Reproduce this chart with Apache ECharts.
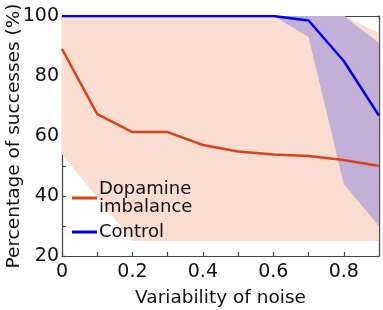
<!DOCTYPE html>
<html><head><meta charset="utf-8">
<script src="https://cdn.jsdelivr.net/npm/echarts@6/dist/echarts.min.js"></script>
<style>html,body{margin:0;padding:0;background:#fff}#c{width:383px;height:310px}</style>
</head><body><div id="c"></div>
<script>
const noise = [0,0.1,0.2,0.3,0.4,0.5,0.6,0.7,0.8,0.9];
const dopamine = [89,67.3,61.3,61.3,57,54.8,53.8,53.3,52,50];
const dopamineUpper = [100,100,100,100,100,100,100,100,100,94.3];
const dopamineLower = [54,39.5,25,25,25,25,25,25,25,25];
const control = [100,100,100,100,100,100,100,98.5,85,66.8];
const controlUpper = [100,100,100,100,100,100,100,100,100,91];
const controlLower = [100,100,100,100,100,100,100,93,44,30];
const xTickLabels = ['0','0.2','0.4','0.6','0.8'];
const yTickLabels = ['20','40','60','80','100'];

const FONT = 'DejaVu Sans';
const chart = echarts.init(document.getElementById('c'), null, {renderer:'canvas'});

function band(upper, lower, color, name){
  return {
    type:'custom', name:name, silent:true, z:1,
    data:[0],
    renderItem:function(params, api){
      const pts=[];
      for(let i=0;i<noise.length;i++) pts.push(api.coord([noise[i], upper[i]]));
      for(let i=noise.length-1;i>=0;i--) pts.push(api.coord([noise[i], lower[i]]));
      return {type:'polygon', shape:{points:pts}, style:{fill:color}};
    }
  };
}
const axisLineStyle = {color:'#444', width:1.2};
const xFmt = v => { const k=Math.round(v*10); return k%2===0 ? xTickLabels[k/2] : ''; };
const yFmt = v => { const k=Math.round(v); return (k%20===0) ? yTickLabels[(k-20)/20] : ''; };

chart.setOption({
  animation:false,
  grid:{left:62, right:4, top:16, bottom:54, containLabel:false, outerBoundsMode:'none'},
  legend:{
    left:67, top:175, orient:'vertical', itemGap:7,
    icon:'rect', itemWidth:25, itemHeight:3,
    textStyle:{fontFamily:FONT, fontSize:18, color:'#111', lineHeight:18, padding:[0,0,0,-3]},
    data:[{name:'Dopamine\nimbalance'},{name:'Control'}]
  },
  xAxis:[{
    type:'value', min:0, max:0.9, interval:0.1,
    name:'Variability of noise', nameLocation:'middle', nameGap:33, nameMoveOverlap:false,
    nameTextStyle:{fontFamily:FONT, fontSize:18.5, color:'#111'},
    axisLine:{show:true, onZero:false, lineStyle:axisLineStyle},
    axisTick:{show:true, inside:true, length:4, lineStyle:axisLineStyle},
    axisLabel:{formatter:xFmt, fontFamily:FONT, fontSize:19, color:'#111', margin:7, showMaxLabel:false},
    splitLine:{show:false}
  },{
    type:'value', min:0, max:0.9, interval:0.1, position:'top',
    axisLine:{show:true, onZero:false, lineStyle:axisLineStyle},
    axisTick:{show:true, inside:true, length:4, lineStyle:axisLineStyle},
    axisLabel:{show:false}, splitLine:{show:false}
  }],
  yAxis:[{
    type:'value', min:20, max:100, interval:10,
    name:'Percentage of successes (%)', nameLocation:'middle', nameGap:38, nameMoveOverlap:false,
    nameTextStyle:{fontFamily:FONT, fontSize:18.5, color:'#111'},
    axisLine:{show:true, onZero:false, lineStyle:axisLineStyle},
    axisTick:{show:true, inside:true, length:4, lineStyle:axisLineStyle},
    axisLabel:{formatter:yFmt, fontFamily:FONT, fontSize:19, color:'#111', margin:3},
    splitLine:{show:false}
  },{
    type:'value', min:20, max:100, interval:10, position:'right',
    axisLine:{show:true, onZero:false, lineStyle:axisLineStyle},
    axisTick:{show:true, inside:true, length:4, lineStyle:axisLineStyle},
    axisLabel:{show:false}, splitLine:{show:false}
  }],
  series:[
    band(dopamineUpper, dopamineLower, '#f8ddd0', 'dband'),
    band(controlUpper, controlLower, '#c3afd7', 'cband'),
    {type:'line', name:'Dopamine\nimbalance', data:noise.map((x,i)=>[x,dopamine[i]]),
     color:'#d5441a', lineStyle:{width:2.5, color:'#d5441a'}, symbol:'none', z:3},
    {type:'line', name:'Control', data:noise.map((x,i)=>[x,control[i]]),
     color:'#0000e6', lineStyle:{width:2.5, color:'#0000e6'}, symbol:'none', z:4}
  ]
});
</script></body></html>
